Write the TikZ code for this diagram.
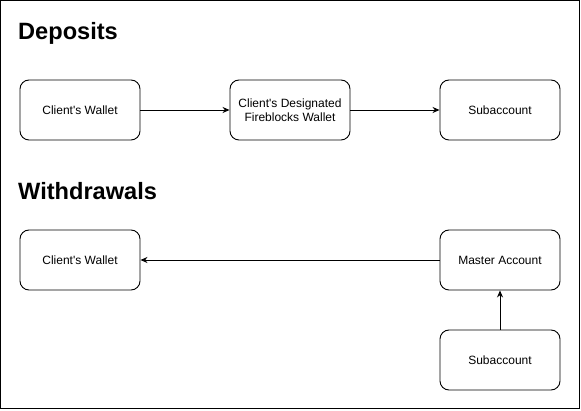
\documentclass[tikz,border=0pt]{standalone}
\usepackage{fontspec}
\setmainfont{Liberation Sans}
\usetikzlibrary{arrows.meta}
\begin{document}
\begin{tikzpicture}[x=1pt,y=-1pt,
  box/.style={draw=black, line width=0.9pt, rounded corners=9pt, minimum width=120pt, minimum height=60pt, align=center, font=\fontsize{12}{14}\selectfont, inner sep=0pt},
  conn/.style={draw=black, line width=0.9pt, -{Stealth[length=7pt,width=6pt]}},
  title/.style={anchor=base west, font=\fontsize{23.6}{26}\selectfont\bfseries, inner sep=0pt}]
\useasboundingbox (0,0) rectangle (581,411);
\draw[line width=1pt] (0.5,0.5) rectangle (579,408.5);
\node[title] (dep) at (18,40) {Deposits};
\node[anchor=base west, inner sep=0pt, font=\fontsize{6}{6}\selectfont, text=gray!60] (dot) at (dep.base east) {.};
\node[title] (wd) at (18,200) {Withdrawals};
\node[box] (cw1) at (80,110) {Client\textquotesingle s Wallet};
\node[box] (fw) at (290,110) {Client\textquotesingle s Designated\\Fireblocks Wallet};
\node[box] (sa1) at (500,110) {Subaccount};
\node[box] (cw2) at (80,260) {Client\textquotesingle s Wallet};
\node[box] (ma) at (500,260) {Master Account};
\node[box] (sa2) at (500,360) {Subaccount};
\draw[conn] (cw1) -- (fw);
\draw[conn] (fw) -- (sa1);
\draw[conn] (ma) -- (cw2);
\draw[conn] (sa2) -- (ma);
\end{tikzpicture}
\end{document}
